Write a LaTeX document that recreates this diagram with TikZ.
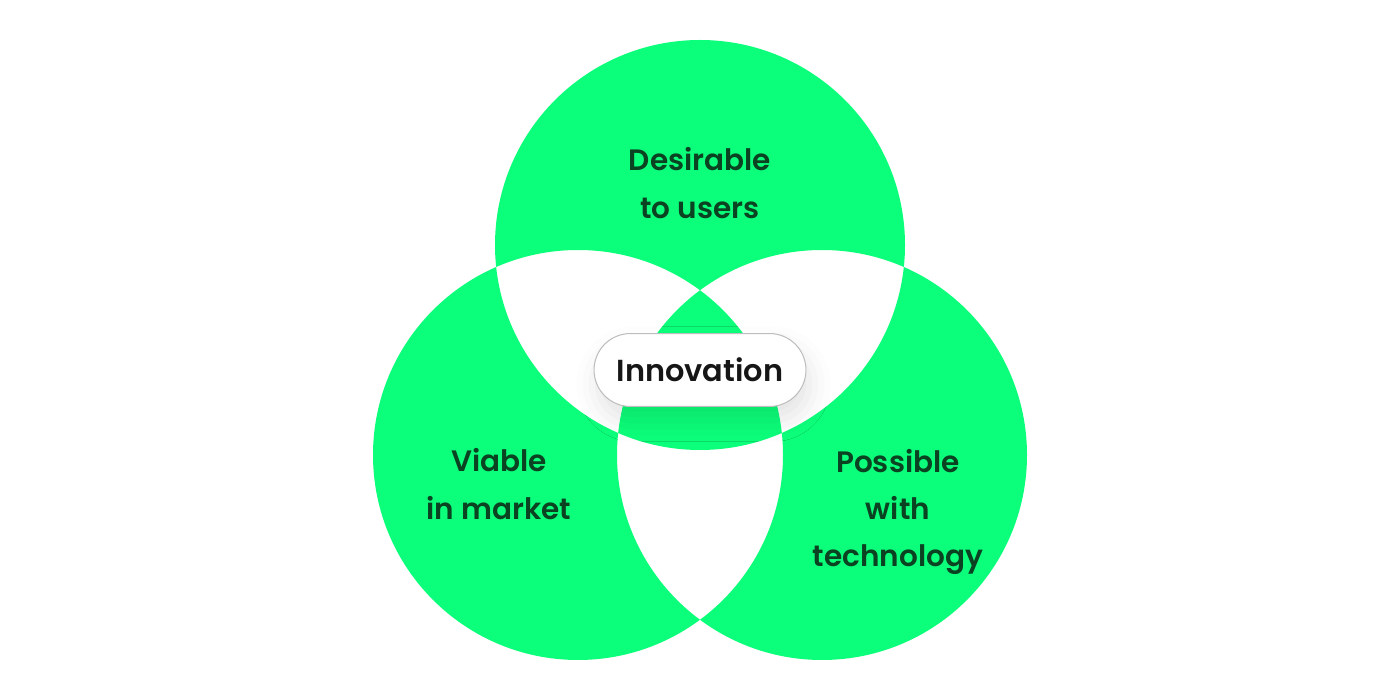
\documentclass[tikz,border=0pt]{standalone}
\usepackage{fontspec}
\usepackage{xcolor}
\usetikzlibrary{shadows.blur}
\newfontfamily\labelfont{Poppins SemiBold}
\definecolor{vgreen}{RGB}{12,255,122}
\definecolor{vtext}{RGB}{10,66,34}
\definecolor{vink}{RGB}{22,22,22}
\definecolor{vborder}{RGB}{190,190,190}

\begin{document}
\begin{tikzpicture}[x=0.02cm, y=0.02cm,
    area/.style={align=center, text=vtext, font=\labelfont\fontsize{16.8}{27}\selectfont},
    pill/.style={draw=vborder, line width=0.6pt, fill=white, rounded corners=20.7pt,
        minimum width=120.6pt, minimum height=41.5pt, inner sep=0pt, text=vink,
        font=\labelfont\fontsize{17.3}{22}\selectfont,
        blur shadow={shadow xshift=2pt, shadow yshift=-8pt, shadow blur radius=12pt, shadow opacity=11}}]
    \useasboundingbox (0,0) rectangle (1400,700);
    \fill[vgreen, even odd rule] (700,455) circle (205) (578,245) circle (205) (822,245) circle (205);

    \node[area] (desirable) at (700,517) {Desirable\\to users};
    \node[area] (viable) at (499,216) {Viable\\in market};
    \node[area] (possible) at (898,188) {Possible\\with\\technology};
    \node[pill] (innovation) at (700,330) {Innovation};
\end{tikzpicture}
\end{document}
